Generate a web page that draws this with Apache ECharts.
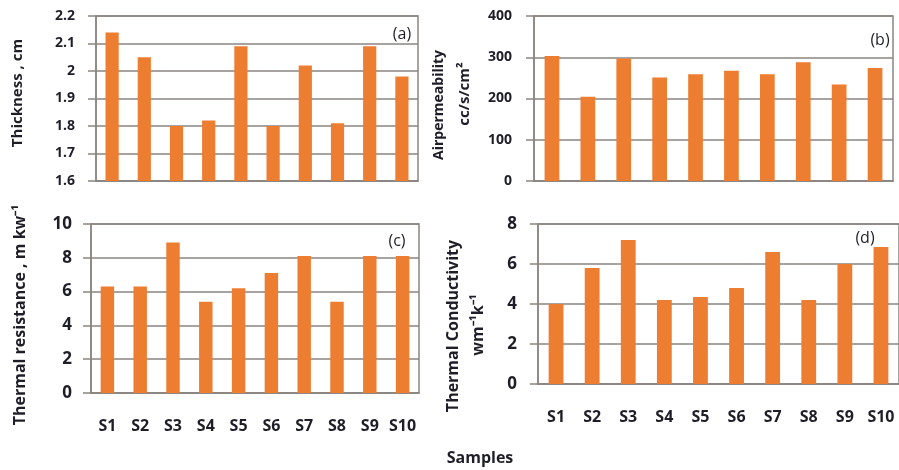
<!DOCTYPE html>
<html>
<head>
<meta charset="utf-8">
<script src="https://cdn.jsdelivr.net/npm/echarts@6/dist/echarts.min.js"></script>
<style>
  html, body { margin: 0; padding: 0; background: #fff; }
  #main { width: 899px; height: 470px; }
</style>
</head>
<body>
<div id="main"></div>
<script>
var categories = ['S1', 'S2', 'S3', 'S4', 'S5', 'S6', 'S7', 'S8', 'S9', 'S10'];
var thickness = [2.14, 2.05, 1.80, 1.82, 2.09, 1.80, 2.02, 1.81, 2.09, 1.98];
var airPermeability = [303, 204, 297, 251, 259, 267, 259, 288, 234, 274];
var thermalResistance = [6.3, 6.3, 8.9, 5.4, 6.2, 7.1, 8.1, 5.4, 8.1, 8.1];
var thermalConductivity = [4.0, 5.8, 7.2, 4.2, 4.35, 4.8, 6.6, 4.2, 6.0, 6.85];

var barColor = '#ED7D31';
var lineColor = '#8a8580';
var textColor = '#1e1e28';
var font = '"Open Sans"';

// y axis ranges for panels a, b, c, d
var yRanges = [
  { min: 1.6, max: 2.2, interval: 0.1 },
  { min: 0, max: 400, interval: 100 },
  { min: 0, max: 10, interval: 2 },
  { min: 0, max: 8, interval: 2 }
];

var chart = echarts.init(document.getElementById('main'));

var grids = [
  { left: 96, top: 16, width: 322, height: 165 },
  { left: 534, top: 16, width: 359, height: 165 },
  { left: 91, top: 224, width: 328, height: 169 },
  { left: 538, top: 224, width: 365, height: 160 }
];
var labelMargins = [21, 22, 19, 21];
var tickFont = [14, 14, 17, 17];
var panelData = [thickness, airPermeability, thermalResistance, thermalConductivity];

var xAxes = [], yAxes = [], series = [];
for (var i = 0; i < 4; i++) {
  grids[i].show = true;
  grids[i].borderColor = lineColor;
  grids[i].borderWidth = 1.5;
  xAxes.push({
    type: 'category',
    gridIndex: i,
    data: categories,
    axisLine: { lineStyle: { color: lineColor, width: 1.5 } },
    axisTick: { show: false },
    axisLabel: {
      show: i >= 2,
      interval: 0,
      margin: 25,
      color: textColor,
      fontFamily: font,
      fontWeight: 'bold',
      fontSize: 16
    }
  });
  yAxes.push({
    type: 'value',
    gridIndex: i,
    min: yRanges[i].min,
    max: yRanges[i].max,
    interval: yRanges[i].interval,
    axisLine: { show: true, lineStyle: { color: lineColor, width: 1.5 } },
    axisTick: { show: true, length: 8, lineStyle: { color: lineColor, width: 1.5 } },
    splitLine: { lineStyle: { color: lineColor, width: 1.5 } },
    axisLabel: {
      margin: labelMargins[i],
      color: textColor,
      fontFamily: font,
      fontWeight: 'bold',
      fontSize: tickFont[i]
    }
  });
  series.push({
    type: 'bar',
    xAxisIndex: i,
    yAxisIndex: i,
    barWidth: '41%',
    itemStyle: { color: barColor },
    data: panelData[i]
  });
}

function vText(txt, x, y, size) {
  return {
    type: 'text',
    x: x, y: y,
    rotation: Math.PI / 2,
    style: {
      text: txt,
      fill: textColor,
      font: 'bold ' + size + 'px ' + font,
      align: 'center',
      verticalAlign: 'middle'
    }
  };
}
function pText(txt, x, y) {
  return {
    type: 'text',
    x: x, y: y,
    style: {
      text: txt,
      fill: textColor,
      font: '16px ' + font,
      align: 'center',
      verticalAlign: 'middle'
    }
  };
}

var option = {
  animation: false,
  grid: grids,
  xAxis: xAxes,
  yAxis: yAxes,
  series: series,
  graphic: [
    vText('Thickness , cm', 18, 93, 15),
    vText('Airpermeability', 439, 105, 14),
    vText('cc/s/cm²', 465, 94, 15),
    vText('Thermal resistance , m kw⁻¹', 20, 315, 16),
    vText('Thermal Conductivity', 453, 326, 16),
    vText('wm⁻¹k⁻¹', 478, 325, 16),
    pText('(a)', 402, 34),
    pText('(b)', 880, 40),
    pText('(c)', 397, 241),
    pText('(d)', 865, 238),
    {
      type: 'text',
      x: 480, y: 458,
      style: {
        text: 'Samples',
        fill: textColor,
        font: 'bold 16px ' + font,
        align: 'center',
        verticalAlign: 'middle'
      }
    }
  ]
};
chart.setOption(option);
</script>
</body>
</html>
